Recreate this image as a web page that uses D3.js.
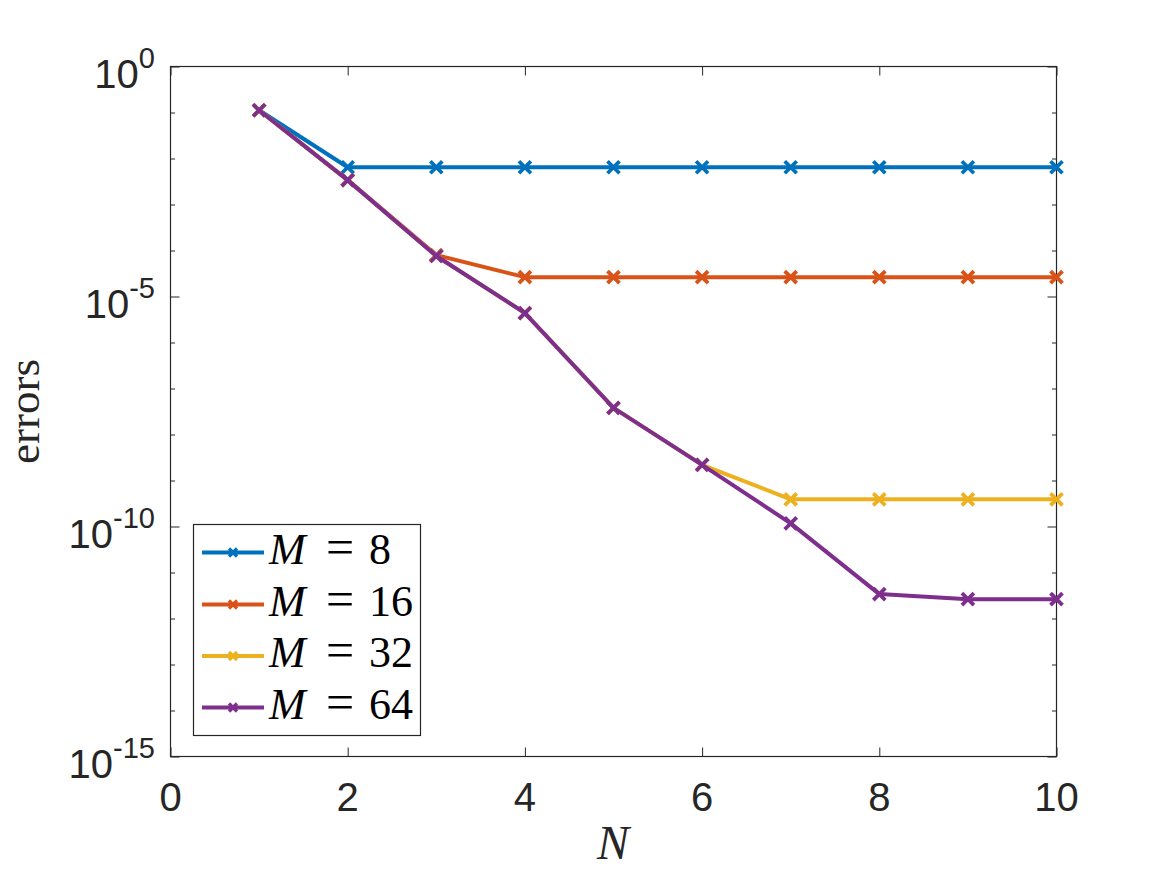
<!DOCTYPE html>
<html>
<head>
<meta charset="utf-8">
<script src="https://cdn.jsdelivr.net/npm/d3@7"></script>
<style>
  html, body { margin: 0; padding: 0; background: #fff; }
  svg { display: block; }
</style>
</head>
<body>
<svg id="chart" width="1167" height="875"></svg>
<script>
// ---- data ----
const N = [1, 2, 3, 4, 5, 6, 7, 8, 9, 10];
const seriesNames = ["M = 8", "M = 16", "M = 32", "M = 64"];
const mValues = ["8", "16", "32", "64"];
const errM8  = [1.12e-1, 6.46e-3, 6.46e-3, 6.46e-3, 6.46e-3, 6.46e-3, 6.46e-3, 6.46e-3, 6.46e-3, 6.46e-3];
const errM16 = [1.12e-1, 3.39e-3, 7.94e-5, 2.63e-5, 2.63e-5, 2.63e-5, 2.63e-5, 2.63e-5, 2.63e-5, 2.63e-5];
const errM32 = [1.12e-1, 3.39e-3, 7.59e-5, 4.37e-6, 3.80e-8, 2.19e-9, 3.89e-10, 3.89e-10, 3.89e-10, 3.89e-10];
const errM64 = [1.12e-1, 3.39e-3, 7.59e-5, 4.37e-6, 3.80e-8, 2.19e-9, 1.17e-10, 3.39e-12, 2.63e-12, 2.63e-12];
const xTicks = [0, 2, 4, 6, 8, 10];
const yMajorExp = [0, -5, -10, -15];
const yMinorExp = [-1, -2, -3, -4, -6, -7, -8, -9, -11, -12, -13, -14];
const colors = ["#0072BD", "#D95319", "#EDB120", "#7E2F8E"];

const allSeries = [errM8, errM16, errM32, errM64];

// ---- layout ----
const svg = d3.select("#chart");
const L = 170.5, R = 1056.5, T = 66.5, B = 756.5;
const axisColor = "#262626";

const x = d3.scaleLinear().domain([0, 10]).range([L, R]);
const y = d3.scaleLog().domain([1, 1e-15]).range([T, B]);

svg.append("rect").attr("x", L).attr("y", T).attr("width", R - L).attr("height", B - T)
  .attr("fill", "#fff");

svg.append("clipPath").attr("id", "clip").append("rect")
  .attr("x", L - 12).attr("y", T - 12).attr("width", R - L + 24).attr("height", B - T + 24);

// ---- axes ----
const tickFont = "'Liberation Sans', Arial, Helvetica, sans-serif";
const serif = "'Liberation Serif', 'Times New Roman', serif";

const gx = svg.append("g").attr("transform", `translate(0,${B})`)
  .call(d3.axisBottom(x).tickValues(xTicks).tickSizeInner(-9).tickSizeOuter(0).tickFormat(""));
const gxt = svg.append("g").attr("transform", `translate(0,${T})`)
  .call(d3.axisTop(x).tickValues(xTicks).tickSizeInner(-9).tickSizeOuter(0).tickFormat(""));
const gyl = svg.append("g").attr("transform", `translate(${L},0)`)
  .call(d3.axisLeft(y).tickValues(yMajorExp.map(e => Math.pow(10, e))).tickSizeInner(-9).tickSizeOuter(0).tickFormat(""));
const gylm = svg.append("g").attr("transform", `translate(${L},0)`)
  .call(d3.axisLeft(y).tickValues(yMinorExp.map(e => Math.pow(10, e))).tickSizeInner(-4.5).tickSizeOuter(0).tickFormat(""));
const gyr = svg.append("g").attr("transform", `translate(${R},0)`)
  .call(d3.axisRight(y).tickValues(yMajorExp.map(e => Math.pow(10, e))).tickSizeInner(-9).tickSizeOuter(0).tickFormat(""));
const gyrm = svg.append("g").attr("transform", `translate(${R},0)`)
  .call(d3.axisRight(y).tickValues(yMinorExp.map(e => Math.pow(10, e))).tickSizeInner(-4.5).tickSizeOuter(0).tickFormat(""));

[gx, gxt, gyl, gylm, gyr, gyrm].forEach(g => {
  g.select(".domain").remove();
  g.selectAll(".tick line").attr("stroke", axisColor).attr("stroke-width", 1);
  g.selectAll(".tick text").remove();
});

svg.append("rect").attr("x", L).attr("y", T).attr("width", R - L).attr("height", B - T)
  .attr("fill", "none").attr("stroke", axisColor).attr("stroke-width", 1.2);

// x tick labels
svg.append("g").selectAll("text").data(xTicks).join("text")
  .attr("x", d => x(d)).attr("y", 811)
  .attr("text-anchor", "middle")
  .attr("font-family", tickFont).attr("font-size", 40).attr("fill", axisColor)
  .text(d => d);

// y tick labels (10^e)
const yl = svg.append("g").selectAll("text").data(yMajorExp).join("text")
  .attr("x", 155).attr("y", d => y(Math.pow(10, d)) + 21)
  .attr("text-anchor", "end")
  .attr("font-family", tickFont).attr("font-size", 40).attr("fill", axisColor);
yl.append("tspan").text("10");
yl.append("tspan").attr("font-size", 29).attr("dy", -20).text(d => String(d));

// axis titles
svg.append("text")
  .attr("x", 613).attr("y", 859)
  .attr("text-anchor", "middle")
  .attr("font-family", serif)
  .attr("font-style", "italic").attr("font-size", 48).attr("fill", axisColor)
  .text("N");

svg.append("text")
  .attr("transform", `translate(39,${(T + B) / 2}) rotate(-90)`)
  .attr("text-anchor", "middle")
  .attr("font-family", serif)
  .attr("font-size", 45).attr("fill", axisColor)
  .text("errors");

// ---- lines ----
const line = d3.line().x((d, i) => x(N[i])).y(d => y(d));
const plot = svg.append("g").attr("clip-path", "url(#clip)");

function xMarker(g, cx, cy, s, color, w) {
  g.append("path")
    .attr("d", `M${cx - s},${cy - s}L${cx + s},${cy + s}M${cx - s},${cy + s}L${cx + s},${cy - s}`)
    .attr("stroke", color).attr("stroke-width", w).attr("fill", "none");
}

allSeries.forEach((s, k) => {
  const g = plot.append("g");
  g.append("path").datum(s)
    .attr("d", line)
    .attr("fill", "none")
    .attr("stroke", colors[k])
    .attr("stroke-width", 4)
    .attr("stroke-linejoin", "round");
  s.forEach((v, i) => xMarker(g, x(N[i]), y(v), 6, colors[k], 3.8));
});

// ---- legend ----
const lg = svg.append("g");
lg.append("rect").attr("x", 193.5).attr("y", 524.5).attr("width", 227).attr("height", 211)
  .attr("fill", "#fff").attr("stroke", axisColor).attr("stroke-width", 1.2);
const rowY = [552.5, 604.5, 656, 707.5];
seriesNames.forEach((name, k) => {
  const yy = rowY[k];
  lg.append("line").attr("x1", 202).attr("x2", 264).attr("y1", yy).attr("y2", yy)
    .attr("stroke", colors[k]).attr("stroke-width", 4);
  xMarker(lg, 233, yy, 4, colors[k], 3.2);
  const t = lg.append("text")
    .attr("y", yy + 11)
    .attr("font-family", serif)
    .attr("font-size", 44).attr("fill", "#000");
  t.append("tspan").attr("x", 269).attr("font-style", "italic").text("M");
  t.append("tspan").attr("x", 326).attr("font-size", 50).text("=");
  t.append("tspan").attr("x", 369).text(mValues[k]);
});
</script>
</body>
</html>
